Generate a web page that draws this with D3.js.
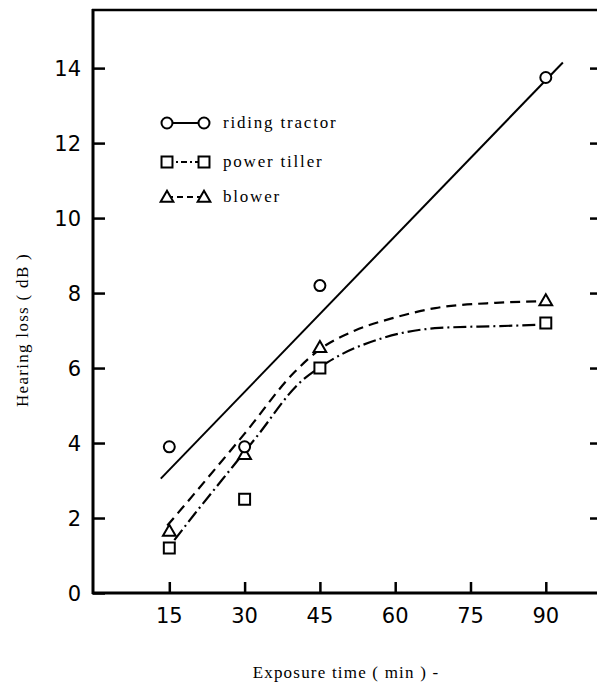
<!DOCTYPE html>
<html>
<head>
<meta charset="utf-8">
<script src="https://cdn.jsdelivr.net/npm/d3@7"></script>
<style>
  body { margin: 0; background: #fff; }
  svg { display: block; }
</style>
</head>
<body>
<div class="container"></div>
<script>
// exposure times (min) and measured hearing loss (dB)
const times = [15, 30, 45, 90]
const tractorValues = [3.9, 3.9, 8.2, 13.75]
const tillerValues = [1.2, 2.5, 6.0, 7.2]
const blowerValues = [1.65, 3.7, 6.55, 7.8]

// fitted lines
const tractorFitT = [13.3, 93.4]
const tractorFitV = [3.05, 14.15]
const blowerFitT = [14.6, 20, 30, 40, 45, 52, 60, 68, 80, 88.5]
const blowerFitV = [1.8, 2.65, 4.25, 5.9, 6.5, 7.0, 7.35, 7.6, 7.74, 7.78]
const tillerFitT = [16, 20, 25.4, 32.3, 40.9, 46.5, 57.5, 68.8, 80.8, 88]
const tillerFitV = [1.41, 2.1, 3.0, 4.15, 5.6, 6.15, 6.8, 7.07, 7.12, 7.15]

const xTicks = [15, 30, 45, 60, 75, 90]
const yTicks = [0, 2, 4, 6, 8, 10, 12, 14]

const legendLabels = ['riding tractor', 'power tiller', 'blower']

const width = 597, height = 684
const margin = {top: 10, left: 93, right: 1, bottom: 91}

const svg = d3.select('.container')
    .append('svg')
    .attr('width', width)
    .attr('height', height)

const xScale = d3.scaleLinear()
    .domain([-0.2, 100])
    .range([margin.left, width - margin.right])

const yScale = d3.scaleLinear()
    .domain([0, 15.55])
    .range([height - margin.bottom, margin.top])

const x0 = margin.left, x1 = width - margin.right
const y0 = height - margin.bottom, y1 = margin.top

// frame
svg.append('line').attr('x1', x0).attr('x2', x0).attr('y1', y1 - 1).attr('y2', y0 + 1)
    .attr('stroke', '#000').attr('stroke-width', 3)
svg.append('line').attr('x1', x0 - 1).attr('x2', x1 + 1).attr('y1', y0).attr('y2', y0)
    .attr('stroke', '#000').attr('stroke-width', 3)
svg.append('line').attr('x1', x0 - 1).attr('x2', x1 + 1).attr('y1', y1).attr('y2', y1)
    .attr('stroke', '#000').attr('stroke-width', 2.5)

// left axis: inward ticks
const yAxis = svg.append('g')
    .attr('transform', `translate(${x0}, 0)`)
    .call(d3.axisRight(yScale).tickValues(yTicks).tickSize(12).tickFormat(''))
yAxis.select('.domain').remove()
yAxis.selectAll('line').attr('stroke-width', 2.5)
svg.append('g').selectAll('text')
    .data(yTicks)
    .join('text')
    .attr('x', x0 - 12)
    .attr('y', d => yScale(d))
    .attr('dy', '0.36em')
    .attr('text-anchor', 'end')
    .style('font', '21px "DejaVu Sans", sans-serif')
    .text(d => d)

// right side ticks
const yRight = svg.append('g')
    .attr('transform', `translate(${x1 + 1}, 0)`)
    .call(d3.axisLeft(yScale).tickValues(yTicks.filter(d => d > 0)).tickSize(7).tickFormat(''))
yRight.select('.domain').remove()
yRight.selectAll('line').attr('stroke-width', 2.5)

// bottom axis: inward ticks
const xAxis = svg.append('g')
    .attr('transform', `translate(0, ${y0})`)
    .call(d3.axisTop(xScale).tickValues(xTicks).tickSize(11).tickFormat(''))
xAxis.select('.domain').remove()
xAxis.selectAll('line').attr('stroke-width', 2.5)
svg.append('g').selectAll('text')
    .data(xTicks)
    .join('text')
    .attr('x', d => xScale(d))
    .attr('y', y0 + 30)
    .attr('text-anchor', 'middle')
    .style('font', '21px "DejaVu Sans", sans-serif')
    .text(d => d)

// axis titles
svg.append('text')
    .attr('transform', `translate(28, 330) rotate(-90)`)
    .attr('text-anchor', 'middle')
    .style('font', '17px "Liberation Serif", serif')
    .style('letter-spacing', '1.3px')
    .text('Hearing loss ( dB )')

svg.append('text')
    .attr('x', 346)
    .attr('y', 678)
    .attr('text-anchor', 'middle')
    .style('font', '17px "Liberation Serif", serif')
    .style('letter-spacing', '1.2px')
    .text('Exposure time ( min ) -')

// fitted lines
const line = d3.line()
    .x(d => xScale(d[0]))
    .y(d => yScale(d[1]))

svg.append('path')
    .datum(d3.zip(tractorFitT, tractorFitV))
    .attr('d', line)
    .attr('fill', 'none')
    .attr('stroke', '#000')
    .attr('stroke-width', 2)

const smooth = line.curve(d3.curveMonotoneX)
svg.append('path')
    .datum(d3.zip(blowerFitT, blowerFitV))
    .attr('d', smooth)
    .attr('fill', 'none')
    .attr('stroke', '#000')
    .attr('stroke-width', 2.2)
    .attr('stroke-dasharray', '10,6')

svg.append('path')
    .datum(d3.zip(tillerFitT, tillerFitV))
    .attr('d', smooth)
    .attr('fill', 'none')
    .attr('stroke', '#000')
    .attr('stroke-width', 2.2)
    .attr('stroke-dasharray', '13,4,2,4')

// markers
const circleSym = d3.symbol().type(d3.symbolCircle).size(95)
const squareSym = d3.symbol().type(d3.symbolSquare).size(120)
const triSym = d3.symbol().type(d3.symbolTriangle).size(70)

function drawMarkers(values, sym, dy) {
    svg.append('g').selectAll('path')
        .data(d3.zip(times, values))
        .join('path')
        .attr('transform', d => `translate(${xScale(d[0])}, ${yScale(d[1]) + dy})`)
        .attr('d', sym)
        .attr('fill', '#fff')
        .attr('stroke', '#000')
        .attr('stroke-width', 2)
}
drawMarkers(tillerValues, squareSym, 0)
drawMarkers(blowerValues, triSym, 1)
drawMarkers(tractorValues, circleSym, 0)

// legend
const legendY = [123, 162, 197]
const legendDash = [null, '6,3,2,3', '6,4']
const legendSyms = [circleSym, squareSym, triSym]
legendLabels.forEach((label, i) => {
    const g = svg.append('g').attr('transform', `translate(0, ${legendY[i]})`)
    g.append('line')
        .attr('x1', 167).attr('x2', 204)
        .attr('stroke', '#000').attr('stroke-width', 2)
        .attr('stroke-dasharray', legendDash[i])
    ;[167, 204].forEach(x => {
        g.append('path')
            .attr('transform', `translate(${x}, ${i === 2 ? 1 : 0})`)
            .attr('d', legendSyms[i])
            .attr('fill', '#fff')
            .attr('stroke', '#000')
            .attr('stroke-width', 2)
    })
    g.append('text')
        .attr('x', 223)
        .attr('y', 5)
        .style('font', '17px "Liberation Serif", serif')
        .style('letter-spacing', '1.8px')
        .text(label)
})
</script>
</body>
</html>
